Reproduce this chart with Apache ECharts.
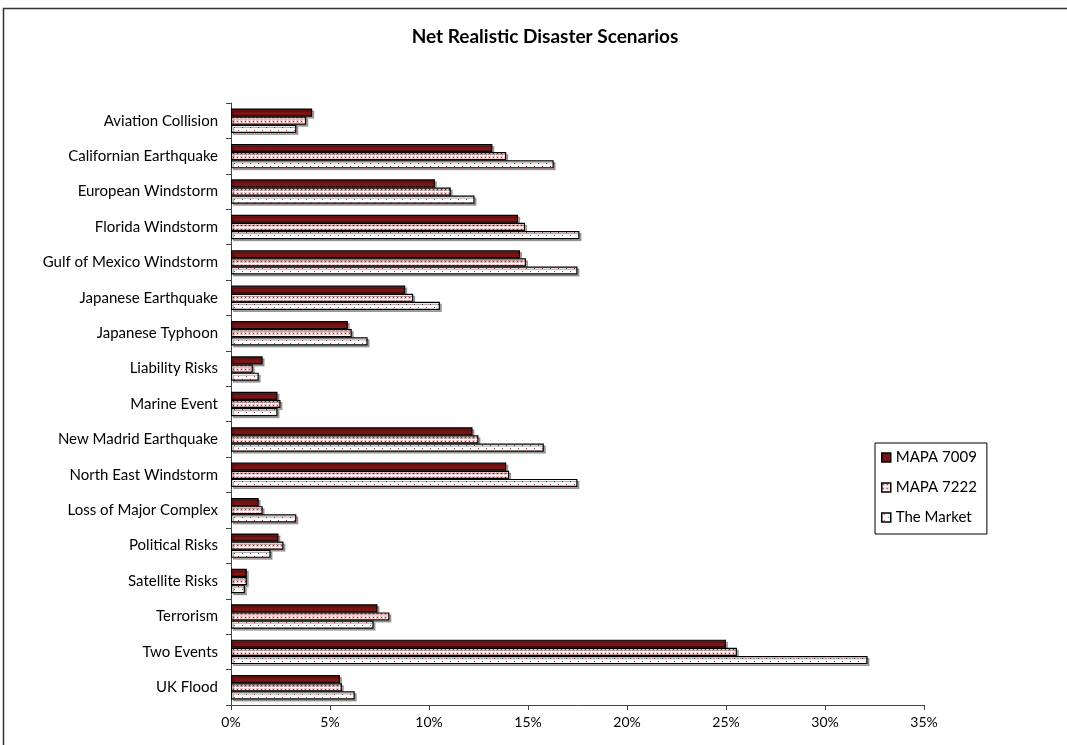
<!DOCTYPE html>
<html>
<head>
<meta charset="utf-8">
<script src="https://cdn.jsdelivr.net/npm/echarts@6/dist/echarts.min.js"></script>
<style>
  html, body { margin: 0; padding: 0; background: #fff; }
  #chart { width: 1067px; height: 745px; }
</style>
</head>
<body>
<div id="chart"></div>
<script>
// Scenario names, top to bottom
const categories = [
  'Aviation Collision', 'Californian Earthquake', 'European Windstorm',
  'Florida Windstorm', 'Gulf of Mexico Windstorm', 'Japanese Earthquake',
  'Japanese Typhoon', 'Liability Risks', 'Marine Event', 'New Madrid Earthquake',
  'North East Windstorm', 'Loss of Major Complex', 'Political Risks',
  'Satellite Risks', 'Terrorism', 'Two Events', 'UK Flood'
];

// Net loss as % of capacity
const mapa7009 = [4.1, 13.2, 10.3, 14.5, 14.6, 8.8, 5.9, 1.6, 2.35, 12.2, 13.9, 1.4, 2.4, 0.8, 7.4, 25.0, 5.5];
const mapa7222 = [3.8, 13.9, 11.1, 14.85, 14.9, 9.2, 6.1, 1.1, 2.5, 12.5, 14.05, 1.6, 2.65, 0.8, 8.0, 25.55, 5.6];
const market   = [3.3, 16.3, 12.3, 17.6, 17.5, 10.55, 6.9, 1.4, 2.35, 15.8, 17.5, 3.3, 2.0, 0.7, 7.2, 32.15, 6.25];

const seriesNames = ['MAPA 7009', 'MAPA 7222', 'The Market'];
const xTicks = [0, 5, 10, 15, 20, 25, 30, 35];

// Fill patterns for the hatched series
function makeTile(w, h, draw) {
  const c = document.createElement('canvas');
  c.width = w; c.height = h;
  const ctx = c.getContext('2d');
  draw(ctx);
  return c;
}
const densePattern = makeTile(4, 4, ctx => {
  ctx.fillStyle = '#ffffff'; ctx.fillRect(0, 0, 4, 4);
  ctx.fillStyle = '#eec4c4'; ctx.fillRect(0, 0, 3, 3);
  ctx.fillStyle = '#a52a2a'; ctx.fillRect(1, 1, 1, 1);
});
const sparsePattern = makeTile(8, 6, ctx => {
  ctx.fillStyle = '#ffffff'; ctx.fillRect(0, 0, 8, 6);
  ctx.fillStyle = '#b03c3c';
  ctx.fillRect(2, 1, 1, 1); ctx.fillRect(6, 4, 1, 1);
});

const fills = ['#7b1515', { image: densePattern, repeat: 'repeat' }, { image: sparsePattern, repeat: 'repeat' }];
const values = [mapa7009, mapa7222, market];

const FONT = 'Lato, "Open Sans", sans-serif';

const chart = echarts.init(document.getElementById('chart'), null, { renderer: 'canvas' });
chart.setOption({
  animation: false,
  backgroundColor: '#fff',
  title: {
    text: 'Net Realistic Disaster Scenarios',
    left: 540, top: 22, textAlign: 'center',
    textStyle: { fontFamily: FONT, fontSize: 19, fontWeight: 'bold', color: '#000' }
  },
  graphic: [{
    type: 'rect', silent: true,
    shape: { x: 3.5, y: 8.5, width: 1100, height: 800 },
    style: { fill: 'none', stroke: '#333', lineWidth: 1.5 }
  }],
  legend: {
    orient: 'vertical',
    left: 875, top: 443,
    padding: [7, 10, 9, 6],
    itemGap: 15,
    icon: 'rect',
    itemWidth: 9, itemHeight: 9,
    borderColor: '#000', borderWidth: 1,
    backgroundColor: '#fff',
    itemStyle: { borderWidth: 1.5, shadowBlur: 0, shadowOffsetX: 0, shadowOffsetY: 0, shadowColor: 'rgba(0,0,0,0)' },
    textStyle: { fontFamily: FONT, fontSize: 15, color: '#000' },
    data: seriesNames
  },
  grid: { left: 231, right: 143, top: 103, bottom: 40, containLabel: false },
  xAxis: {
    type: 'value',
    min: 0, max: 35, interval: 5,
    splitLine: { show: false },
    axisLine: { show: true, lineStyle: { color: '#444', width: 1 } },
    axisTick: { show: true, length: 5, lineStyle: { color: '#444' } },
    axisLabel: {
      fontFamily: FONT, fontSize: 14, color: '#000', margin: 10,
      formatter: v => xTicks.includes(v) ? v + '%' : ''
    }
  },
  yAxis: {
    type: 'category',
    inverse: true,
    data: categories,
    axisLine: { show: true, lineStyle: { color: '#444', width: 1 } },
    axisTick: { show: true, length: 5, lineStyle: { color: '#444' } },
    axisLabel: { fontFamily: FONT, fontSize: 15, color: '#000', margin: 13 }
  },
  series: seriesNames.map((name, i) => ({
    name,
    type: 'bar',
    data: values[i],
    barGap: '0%',
    barCategoryGap: '31%',
    itemStyle: {
      color: fills[i],
      borderColor: '#000',
      borderWidth: 1.2,
      shadowColor: 'rgba(0,0,0,0.3)',
      shadowOffsetX: 2, shadowOffsetY: 2, shadowBlur: 0
    }
  }))
});
</script>
</body>
</html>
